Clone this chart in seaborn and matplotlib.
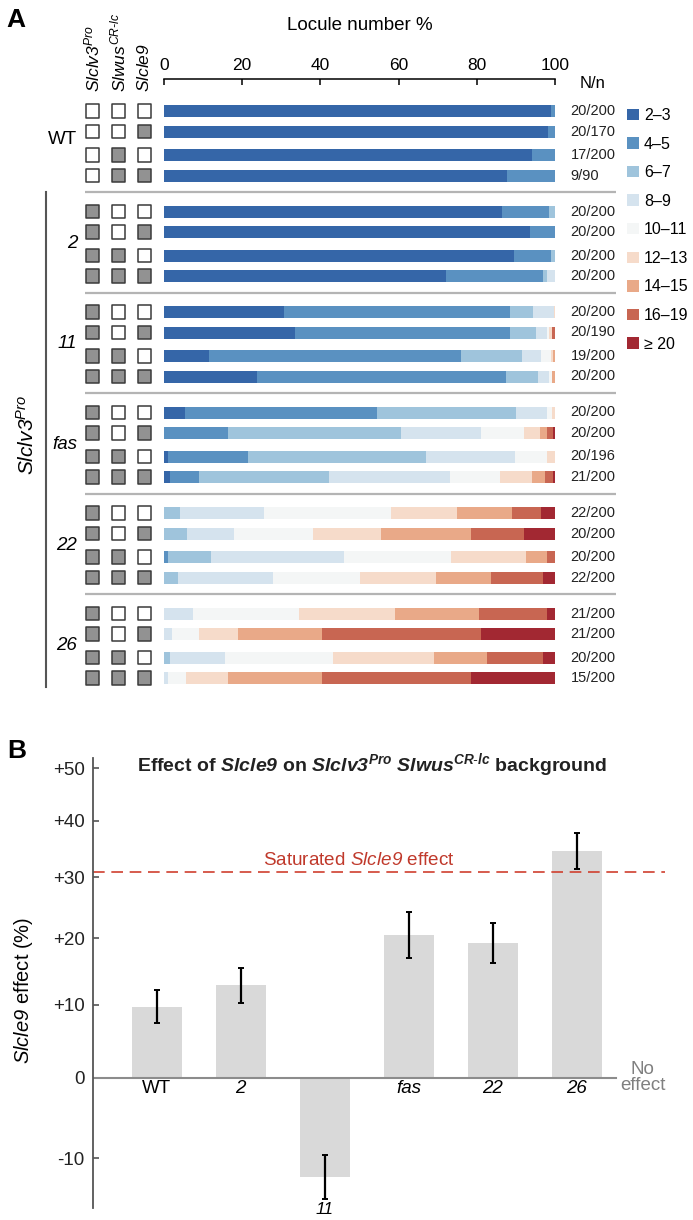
import numpy as np
import pandas as pd
import seaborn as sns
import matplotlib.pyplot as plt
from matplotlib.patches import Patch

plt.rcParams['font.family'] = ['Liberation Sans', 'DejaVu Sans']
# math mode is only used for the italic gene names, so digits there stay italic too
plt.rcParams['mathtext.fontset'] = 'custom'
plt.rcParams['mathtext.rm'] = 'Liberation Sans:italic'
plt.rcParams['mathtext.it'] = 'Liberation Sans:italic'
plt.rcParams['mathtext.bf'] = 'Liberation Sans:italic:bold'
plt.rcParams['mathtext.bfit'] = 'Liberation Sans:italic:bold'

# ---------------- data: panel A (locule number %, 24 rows) ----------------
locule_classes = ['2–3', '4–5', '6–7', '8–9', '10–11', '12–13', '14–15', '16–19', '≥ 20']
class_colors = ['#3566a8', '#5a91c1', '#9fc4dc', '#d5e3ee', '#f4f6f6',
                '#f6dbca', '#e9a988', '#c86652', '#a22832']

c23 = [99.0, 98.2, 94.1, 87.7, 86.5, 93.6, 89.5, 72.2, 30.8, 33.4, 11.4, 23.9,
       5.3, 0, 0.9, 1.5, 0, 0, 0, 0, 0, 0, 0, 0]
c45 = [1.0, 1.8, 5.9, 12.3, 12.0, 6.4, 9.5, 24.7, 57.7, 55.1, 64.6, 63.6,
       49.3, 16.3, 20.7, 7.4, 0, 0, 0.9, 0, 0, 0, 0, 0]
c67 = [0, 0, 0, 0, 1.5, 0, 1.0, 1.1, 5.9, 6.7, 15.6, 8.2,
       35.4, 44.4, 45.5, 33.4, 4.0, 5.8, 11.0, 3.5, 0, 0, 1.5, 0]
c89 = [0, 0, 0, 0, 0, 0, 0, 2.0, 5.3, 2.8, 4.8, 2.8,
       8.0, 20.4, 22.7, 30.9, 21.7, 12.0, 34.2, 24.3, 7.3, 2.0, 14.2, 0.9]
c1011 = [0, 0, 0, 0, 0, 0, 0, 0, 0, 0.5, 2.6, 0.7,
         1.2, 11.0, 8.2, 12.8, 32.4, 20.4, 27.3, 22.4, 27.3, 6.9, 27.6, 4.6]
c1213 = [0, 0, 0, 0, 0, 0, 0, 0, 0.3, 0.8, 0.5, 0,
         0.8, 4.1, 2.0, 8.1, 16.9, 17.4, 19.2, 19.4, 24.6, 9.9, 25.8, 10.8]
c1415 = [0, 0, 0, 0, 0, 0, 0, 0, 0, 0, 0.5, 0.8,
         0, 1.8, 0, 3.3, 14.0, 22.9, 5.4, 14.0, 21.4, 21.5, 13.5, 24.0]
c1619 = [0, 0, 0, 0, 0, 0, 0, 0, 0, 0.7, 0, 0,
         0, 1.5, 0, 2.1, 7.4, 13.6, 2.0, 13.3, 17.4, 40.8, 14.3, 38.2]
c20 = [0, 0, 0, 0, 0, 0, 0, 0, 0, 0, 0, 0,
       0, 0.5, 0, 0.5, 3.6, 7.9, 0, 3.1, 2.0, 18.9, 3.1, 21.5]

n_label = ['20/200', '20/170', '17/200', '9/90',
           '20/200', '20/200', '20/200', '20/200',
           '20/200', '20/190', '19/200', '20/200',
           '20/200', '20/200', '20/196', '21/200',
           '22/200', '20/200', '20/200', '22/200',
           '21/200', '21/200', '20/200', '15/200']

group_names = ['WT', '2', '11', 'fas', '22', '26']
# genotype boxes (1 = mutant / filled)
g_clv3 = [0, 0, 0, 0] + [1] * 20
g_wus = [0, 0, 1, 1] * 6
g_cle9 = [0, 1, 0, 1] * 6

# ---------------- data: panel B ----------------
effect = [9.7, 12.9, -12.2, 20.6, 19.3, 34.6]
effect_lo = [7.4, 10.3, -14.7, 17.0, 16.2, 31.4]
effect_hi = [12.1, 15.5, -9.6, 24.3, 22.4, 37.7]
saturated = 30.9

# ================= figure =================
W, H = 693, 1220
fig = plt.figure(figsize=(W / 100, H / 100), dpi=100)

# panel A axes: x = %, y = pixel rows (top 79 -> bottom 690)
x0, x100 = 164.0, 555.0
axA = fig.add_axes([x0 / W, 1 - 690 / H, (x100 - x0) / W, (690 - 79) / H])
px = (x100 - x0) / 100.0  # pixels per %


def xp(pix):
    return (pix - x0) / px


grp = np.repeat(np.arange(6), 4)
slot = np.tile(np.arange(4), 6)
row_y = 111 + 100.5 * grp + np.array([0, 20.5, 44, 64.5])[slot]

# stacked bars: draw cumulative sums from the last class to the first
cum = np.cumsum(np.array([c23, c45, c67, c89, c1011, c1213, c1415, c1619, c20]), axis=0)
for k in range(len(locule_classes) - 1, -1, -1):
    d = pd.DataFrame({'pct': cum[k], 'row': row_y})
    sns.barplot(data=d, x='pct', y='row', orient='h', native_scale=True,
                color=class_colors[k], saturation=1, errorbar=None,
                width=12 / 20.5, linewidth=0, ax=axA)

axA.set_xlim(0, 100)
axA.set_ylim(690, 79)
axA.set_ylabel('')
axA.set_xlabel('')
axA.set_yticks([])
for s in ['left', 'right', 'bottom']:
    axA.spines[s].set_visible(False)
axA.spines['top'].set_linewidth(1.1)
axA.xaxis.set_ticks_position('top')
axA.set_xticks([0, 20, 40, 60, 80, 100])
axA.tick_params(axis='x', direction='in', length=4, width=1.1, pad=4, labelsize=12.5)
axA.text(50, 25, 'Locule number %', ha='center', va='center', fontsize=13.5)
axA.text(xp(593), 83, 'N/n', ha='center', va='center', fontsize=12)

# genotype boxes
box_x = [xp(92.3), xp(118.3), xp(144.3)]
for bx, geno in zip(box_x, [g_clv3, g_wus, g_cle9]):
    fc = ['#929292' if g else 'white' for g in geno]
    axA.scatter([bx] * len(row_y), row_y, marker='s', s=95, c=fc,
                edgecolors='#3a3a3a', linewidths=1.1, clip_on=False, zorder=3)

headers = [r'$Slclv3^{Pro}$', r'$Slwus^{CR\text{-}lc}$', r'$Slcle9$']
for bx, h in zip(box_x, headers):
    axA.text(bx, 92, h, rotation=90, ha='center', va='bottom', fontsize=12.5)

# N/n labels
for y, lab in zip(row_y, n_label):
    axA.text(xp(570.7), y, lab, ha='left', va='center', fontsize=10.5, color='#222222')

# group labels and separators
for g, name in enumerate(group_names):
    base = 111 + 100.5 * g
    style = 'normal' if name == 'WT' else 'italic'
    axA.text(xp(77), base + 32 - (4 if g == 0 else 0), name, ha='right', va='center',
             fontsize=13.5, fontstyle=style)
    if g > 0:
        axA.plot([xp(85.3), xp(616)], [base - 19.3] * 2, color='#b4b4b4', lw=1.6,
                 clip_on=False, solid_capstyle='butt')

axA.plot([xp(46), xp(46)], [192, 687], color='#555555', lw=1.5, clip_on=False)
axA.text(xp(27), 435, r'$Slclv3^{Pro}$', rotation=90,
         ha='center', va='center', fontsize=15)

handles = [Patch(facecolor=c, edgecolor='none') for c in class_colors]
axA.legend(handles, locule_classes, loc='upper left',
           bbox_to_anchor=(627 / W, 1 - 108 / H), bbox_transform=fig.transFigure,
           frameon=False, fontsize=11.5, handlelength=0.72, handleheight=0.72,
           handletextpad=0.35, labelspacing=0.85, borderpad=0, borderaxespad=0)

# ================= panel B =================
axB = fig.add_axes([93 / W, 1 - 1208 / H, 572 / W, (1208 - 758) / H])
dB = pd.DataFrame({'group': group_names, 'effect': effect})
sns.barplot(data=dB, x='group', y='effect', order=group_names, color='#d9d9d9',
            saturation=1, errorbar=None, width=0.595, linewidth=0, ax=axB)
eff = np.array(effect)
yerr = [eff - np.array(effect_lo), np.array(effect_hi) - eff]
axB.errorbar(np.arange(len(group_names)), eff, yerr=yerr, fmt='none', ecolor='black',
             elinewidth=1.6, capsize=2.5, capthick=1.4, zorder=4)


def fwd(v):
    return np.log1p(np.asarray(v) / 100.0)


def inv(u):
    return 100.0 * np.expm1(np.asarray(u))


# effect axis is drawn on a log(1 + x/100) scale
axB.set_yscale('function', functions=(fwd, inv))
axB.set_ylim(-15.7, 52)
axB.set_xlim(-0.758, 6.05)
yt = [-10, 0, 10, 20, 30, 40, 50]
axB.set_yticks(yt)
axB.set_yticklabels([('+%d' % t) if t > 0 else ('%d' % t) for t in yt])
axB.minorticks_off()
axB.tick_params(axis='y', direction='in', length=4.5, width=1.2, color='#555555',
                pad=6, labelsize=13.5, labelcolor='#222222')
axB.set_xticks([])
axB.set_xlabel('')
for s in ['top', 'right', 'bottom']:
    axB.spines[s].set_visible(False)
axB.spines['left'].set_color('#555555')
axB.spines['left'].set_linewidth(1.3)
axB.axhline(0, xmin=0, xmax=(5.47 + 0.758) / (6.05 + 0.758), color='#8c8c8c', lw=1.5)
axB.axhline(saturated, color='#d0402f', lw=1.2, ls=(0, (7, 4)))
axB.annotate(r'Saturated $Slcle9$ effect', xy=(2.408, saturated), xytext=(0, 2.5),
             textcoords='offset points', ha='center', va='bottom', fontsize=13.6,
             color='#c0392b')
axB.set_ylabel(r'$Slcle9$ effect (%)', fontsize=14.5)
axB.yaxis.set_label_coords(-0.101, 0.4826)

for i, name in enumerate(group_names):
    style = 'normal' if name == 'WT' else 'italic'
    if effect[i] >= 0:
        axB.annotate(name, xy=(i, 0), xytext=(0, -1.5), textcoords='offset points',
                     ha='center', va='top', fontsize=13.5, fontstyle=style)
    else:
        axB.annotate(name, xy=(i, effect_lo[i]), xytext=(0, -2.5), textcoords='offset points',
                     ha='center', va='top', fontsize=12.5, fontstyle=style,
                     annotation_clip=False)
axB.text(5.786, 0, 'No\neffect', ha='center', va='center', fontsize=13.5,
         color='#808080', linespacing=0.95)

fig.text(372 / W, 1 - 765 / H,
         r'Effect of $\mathbf{Slcle9}$ on $\mathbf{Slclv3}^{\mathbf{Pro}}$ '
         r'$\mathbf{Slwus}^{\mathbf{CR\text{-}lc}}$ background',
         ha='center', va='center', fontsize=14, fontweight='bold', color='#222222')

for letter, (lx, ly) in zip(['A', 'B'], [(16, 20), (17, 751)]):
    fig.text(lx / W, 1 - ly / H, letter, ha='center', va='center', fontsize=19,
             fontweight='bold', family=['Liberation Sans Narrow', 'Liberation Sans'])

fig.savefig('out.png', dpi=100)
